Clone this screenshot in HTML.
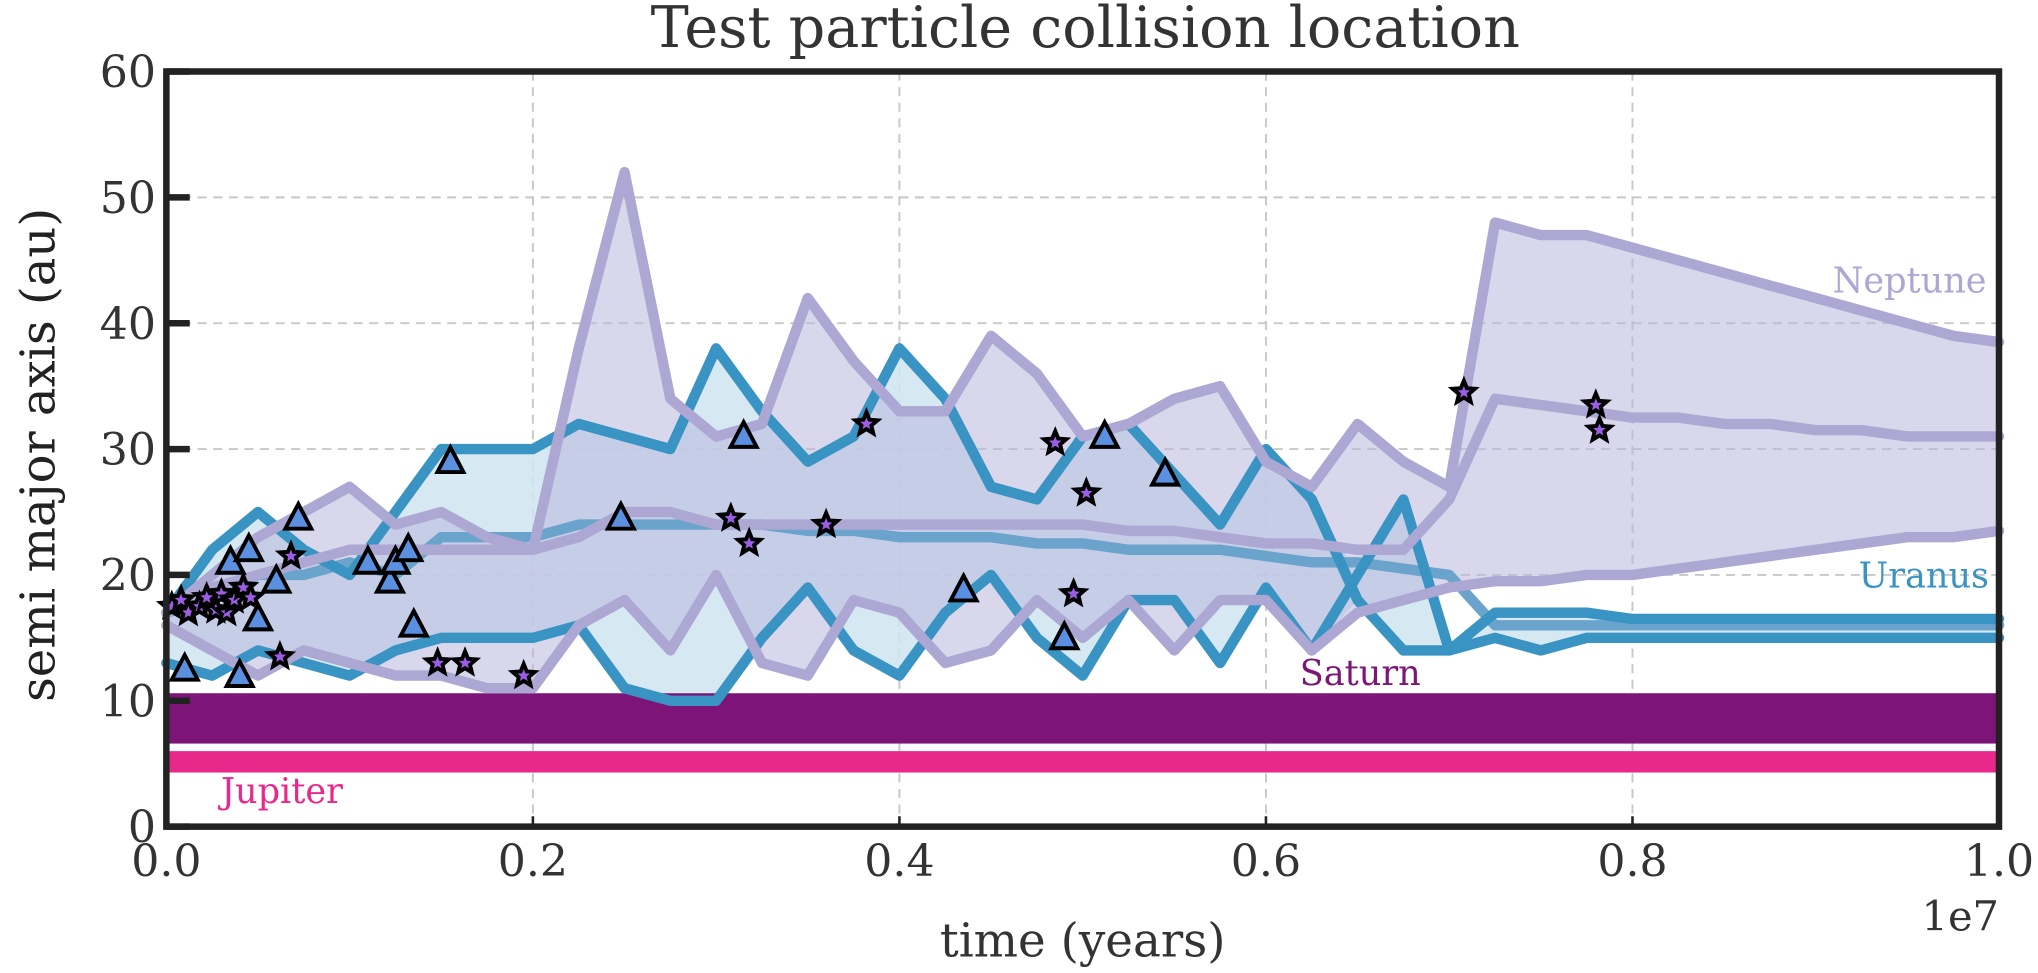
<!DOCTYPE html>
<html><head><meta charset="utf-8"><style>
html,body{margin:0;padding:0;background:#fff;}
svg{display:block;font-family:"DejaVu Serif","Liberation Serif",serif;}
</style></head><body>
<svg id="chart" width="2038" height="973" viewBox="0 0 1568 748.6" xmlns="http://www.w3.org/2000/svg">
<rect width="1568" height="748.6" fill="#fff"/>
<text x="835" y="36" font-size="44" text-anchor="middle" fill="#333">Test particle collision location</text>
<g id="grid"></g>
<g id="marks"></g>
<g id="axes"></g>
<text x="1410" y="225" font-size="27" fill="#aca7d3">Neptune</text>
<text x="1430" y="452" font-size="27" fill="#3993c3">Uranus</text>
<text x="1000" y="527" font-size="27" fill="#7d1578">Saturn</text>
<text x="170" y="618" font-size="27" fill="#e8288a">Jupiter</text>
<text x="833" y="736" font-size="36" text-anchor="middle" fill="#333">time (years)</text>
<text x="1538" y="716" font-size="32" text-anchor="end" fill="#333">1e7</text>
<text transform="translate(42,350) rotate(-90)" font-size="37" text-anchor="middle" fill="#222">semi major axis (au)</text>
</svg>
<script>
const times = [0,0.25,0.5,0.75,1,1.25,1.5,1.75,2,2.25,2.5,2.75,3,3.25,3.5,3.75,4,4.25,4.5,4.75,5,5.25,5.5,5.75,6,6.25,6.5,6.75,7,7.25,7.5,7.75,8,8.25,8.5,8.75,9,9.25,9.5,9.75,10];
const neptuneTop = [17,20,23,25,27,24,25,23,22,38,52,34,31,32,42,37,33,33,39,36,31,32,34,35,29,27,32,29,27,48,47,47,46,45,44,43,42,41,40,39,38.5];
const neptuneMid = [17,19,20,21,22,22,22,22,22,23,25,25,24,24,24,24,24,24,24,24,24,23.5,23.5,23,22.5,22.5,22,22,26,34,33.5,33,32.5,32.5,32,32,31.5,31.5,31,31,31];
const neptuneBot = [16,14,12,14,13,12,12,11,11,16,18,14,20,13,12,18,17,13,14,18,15,18,14,18,18,14,17,18,19,19.5,19.5,20,20,20.5,21,21.5,22,22.5,23,23,23.5];
const uranusTop = [17,22,25,22,20,25,30,30,30,32,31,30,38,33,29,31,38,34,27,26,31,32,28,24,30,26,18,14,14,17,17,17,16.5,16.5,16.5,16.5,16.5,16.5,16.5,16.5,16.5];
const uranusMid = [17,18,20,20,21,20,23,23,23,24,24,24,24,24,23.5,23.5,23,23,23,22.5,22.5,22,22,22,21.5,21,21,20.5,20,16,16,16,16,16,16,16,16,16,16,16,16];
const uranusBot = [13,12,14,13,12,14,15,15,15,16,11,10,10,15,19,14,12,17,20,15,12,18,18,13,19,14,20,26,14,15,14,15,15,15,15,15,15,15,15,15,15];
const saturnBand = [6.6,10.6];
const jupiterBand = [4.3,6.0];
const triT = [0.1,0.35,0.45,0.4,0.5,0.6,0.72,1.1,1.22,1.25,1.32,1.35,1.55,2.48,3.15,4.35,4.9,5.12,5.45];
const triA = [12.5,21,22,12,16.5,19.5,24.5,21,19.5,21,22,16,29,24.5,31,18.8,15,31,28];
const starT = [0.03,0.08,0.12,0.18,0.22,0.27,0.3,0.33,0.37,0.42,0.46,0.62,0.68,1.48,1.63,1.95,3.08,3.18,3.6,3.82,4.85,4.95,5.02,7.08,7.8,7.82];
const starA = [17.5,18,17,17.5,18.2,17.2,18.5,17,18,19,18.2,13.5,21.5,13,13,12,24.5,22.5,24,32,30.5,18.5,26.5,34.5,33.5,31.5];
const xTicks = [0,2,4,6,8,10];
const xTickLabels = ["0.0","0.2","0.4","0.6","0.8","1.0"];
const yTicks = [0,10,20,30,40,50,60];

const L=128,R=1538,T=55,B=636;
const sx=t=>L+(t/10)*(R-L);
const sy=a=>B-(a/60)*(B-T);
const NS="http://www.w3.org/2000/svg";
function mk(tag,attrs,parent){const e=document.createElementNS(NS,tag);for(const k in attrs)e.setAttribute(k,attrs[k]);parent.appendChild(e);return e;}
const grid=document.getElementById('grid'),marks=document.getElementById('marks'),axes=document.getElementById('axes');

xTicks.forEach((t,i)=>{
  const g=mk('line',{x1:sx(t),x2:sx(t),y1:T,y2:B,stroke:'#c8c8c8','stroke-width':1.5,'stroke-dasharray':'7,5'},grid);
  
  
  const tk=mk('line',{x1:sx(t),x2:sx(t),y1:B,y2:B-8,stroke:'#222','stroke-width':2},axes);
  
  
  const lb=mk('text',{x:sx(t),y:B+38,'font-size':34,'text-anchor':'middle',fill:'#333'},axes);
  lb.textContent=xTickLabels[i];
  
  
});
yTicks.forEach(a=>{
  const g=mk('line',{x1:L,x2:R,y1:sy(a),y2:sy(a),stroke:'#c8c8c8','stroke-width':1.5,'stroke-dasharray':'7,5'},grid);
  
  
  const tk=mk('line',{x1:L,x2:L+18,y1:sy(a),y2:sy(a),stroke:'#222','stroke-width':5},axes);
  
  
  const lb=mk('text',{x:L-8,y:sy(a)+12,'font-size':34,'text-anchor':'end',fill:'#333'},axes);
  lb.textContent=a;
  
  
});

function pts(arr){return arr.map((v,i)=>sx(times[i])+','+sy(v)).join(' ');}
function band(top,bot,fill,op,name){
  const p=top.map((v,i)=>sx(times[i])+','+sy(Math.max(v,bot[i]))).concat(bot.map((v,i)=>sx(times[i])+','+sy(Math.min(v,top[i]))).reverse()).join(' ');
  const e=mk('polygon',{points:p,fill:fill,'fill-opacity':op},marks);
  
  
}
function line(arr,color,w,name){
  const e=mk('polyline',{points:pts(arr),fill:'none',stroke:color,'stroke-width':w,'stroke-linejoin':'round','stroke-linecap':'round'},marks);
  
  
}
band(uranusTop,uranusBot,'#cfe5f1',0.85,'uranus-fill');
band(neptuneTop,neptuneBot,'#b9b6da',0.55,'neptune-fill');

const sat=mk('rect',{x:L,y:sy(saturnBand[1]),width:R-L,height:sy(saturnBand[0])-sy(saturnBand[1]),fill:'#7d1578'},marks);


const jup=mk('rect',{x:L,y:sy(jupiterBand[1]),width:R-L,height:sy(jupiterBand[0])-sy(jupiterBand[1]),fill:'#e8288a'},marks);



line(uranusMid,'#6aa3cc',8,'uranus-mid-line');
line(uranusTop,'#3993c3',8,'uranus-top-line');
line(uranusBot,'#3993c3',8,'uranus-bottom-line');
line(neptuneMid,'#aca7d3',8,'neptune-mid-line');
line(neptuneTop,'#aca7d3',8,'neptune-top-line');
line(neptuneBot,'#aca7d3',8,'neptune-bottom-line');

triT.forEach((t,i)=>{
  const x=sx(t),y=sy(triA[i]);
  const e=mk('polygon',{points:`${x},${y-11} ${x-10},${y+8} ${x+10},${y+8}`,fill:'#5b8fe0',stroke:'#000','stroke-width':3,'stroke-linejoin':'miter'},marks);
  
  
});
starT.forEach((t,i)=>{
  const x=sx(t),y=sy(starA[i]);let p=[];
  for(let k=0;k<10;k++){const r=k%2?4:9;const an=-Math.PI/2+k*Math.PI/5;p.push((x+r*Math.cos(an)).toFixed(1)+','+(y+r*Math.sin(an)).toFixed(1));}
  const e=mk('polygon',{points:p.join(' '),fill:'#9b5de5',stroke:'#000','stroke-width':3},marks);
  
  
});

const fr=mk('rect',{x:L,y:T,width:R-L,height:B-T,fill:'none',stroke:'#222','stroke-width':5},axes);


</script>
</body></html>
